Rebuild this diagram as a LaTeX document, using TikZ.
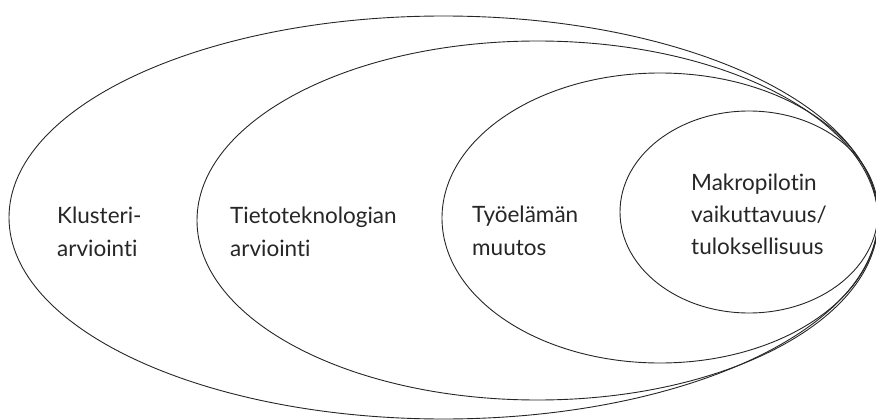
\documentclass[tikz,border=0pt]{standalone}
\usepackage{fontspec}
\setmainfont{Lato}[Ligatures=CommonOff]
\begin{document}
\begin{tikzpicture}[x=1pt,y=-1pt,
  ring/.style={draw=black!85, line width=0.9pt},
  lbl/.style={anchor=base west, inner sep=0pt, align=left, text=black!85,
    font=\fontsize{22.5}{33}\selectfont}]
\useasboundingbox (0,0) rectangle (876,420);
\draw[ring] (443.5,217.5) ellipse [x radius=434.5, y radius=201.5];
\draw[ring] (537.5,220.5) ellipse [x radius=340.5, y radius=179.5];
\draw[ring] (660,218) ellipse [x radius=218, y radius=145];
\draw[ring] (749,212) ellipse [x radius=129, y radius=101];
\node[lbl] (k) at (57,256) {Klusteri-\\arviointi};
\node[lbl] (t) at (230,256) {Tietoteknologian\\arviointi};
\node[lbl] (w) at (472,255) {Työelämän\\muutos};
\node[lbl, font=\fontsize{22.5}{32}\selectfont] (m) at (691,254) {Makropilotin\\vaikuttavuus/\\tuloksellisuus};
\end{tikzpicture}
\end{document}
